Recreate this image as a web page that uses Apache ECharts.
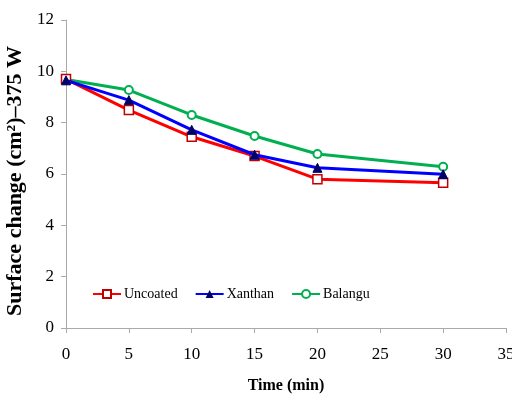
<!DOCTYPE html>
<html><head><meta charset="utf-8">
<script src="https://cdn.jsdelivr.net/npm/echarts@6/dist/echarts.min.js"></script>
<style>html,body{margin:0;padding:0;background:#fff}#c{width:512px;height:403px}</style>
</head><body><div id="c"></div>
<script>
const times = [0, 5, 10, 15, 20, 30];
const uncoated = [9.7, 8.49, 7.45, 6.7, 5.8, 5.66];
const xanthan = [9.65, 8.88, 7.72, 6.75, 6.24, 5.99];
const balangu = [9.68, 9.27, 8.3, 7.48, 6.78, 6.28];
const font = '"Liberation Serif","Times New Roman",serif';
const chart = echarts.init(document.getElementById('c'));
function pts(v){ return times.map((t,i)=>[t,v[i]]); }
chart.setOption({
  animation:false,
  textStyle:{fontFamily:font},
  grid:{left:66,right:6,top:20,bottom:75,outerBoundsMode:'none',containLabel:false},
  legend:{left:92,top:287,padding:0,itemWidth:28,itemHeight:10,itemGap:17,
    textStyle:{fontFamily:font,fontSize:14,color:'#000',padding:[0,0,0,-2]},
    data:['Uncoated','Xanthan','Balangu']},
  xAxis:{type:'value',min:0,max:35,interval:5,
    name:'Time (min)',nameLocation:'middle',nameGap:50,
    nameTextStyle:{fontFamily:font,fontSize:16,fontWeight:'bold',color:'#000'},
    axisLine:{lineStyle:{color:'#aaa'}},axisTick:{show:true,length:5,lineStyle:{color:'#aaa'}},
    axisLabel:{fontFamily:font,fontSize:17,color:'#000',margin:18},splitLine:{show:false}},
  yAxis:{type:'value',min:0,max:12,interval:2,
    name:'Surface change (cm²)–375 W',nameLocation:'middle',nameGap:38,
    nameTextStyle:{fontFamily:font,fontSize:22,fontWeight:'bold',color:'#000',padding:[0,14,0,0]},
    axisLine:{show:true,lineStyle:{color:'#aaa'}},axisTick:{show:true,length:5,lineStyle:{color:'#aaa'}},
    axisLabel:{fontFamily:font,fontSize:17,color:'#000',margin:12},splitLine:{show:false}},
  series:[
    {name:'Uncoated',type:'line',data:pts(uncoated),symbol:'rect',symbolSize:9,
      lineStyle:{color:'#ff0000',width:3},itemStyle:{color:'#ffffff',borderColor:'#c00000',borderWidth:1.5},
      z:3},
    {name:'Xanthan',type:'line',data:pts(xanthan),symbol:'triangle',symbolSize:9,
      lineStyle:{color:'#0000ff',width:3},itemStyle:{color:'#000066',borderColor:'#000066'},z:4},
    {name:'Balangu',type:'line',data:pts(balangu),symbol:'circle',symbolSize:8,
      lineStyle:{color:'#00b050',width:3},itemStyle:{color:'#ffffff',borderColor:'#00b050',borderWidth:2},z:2}
  ]
});
</script></body></html>
